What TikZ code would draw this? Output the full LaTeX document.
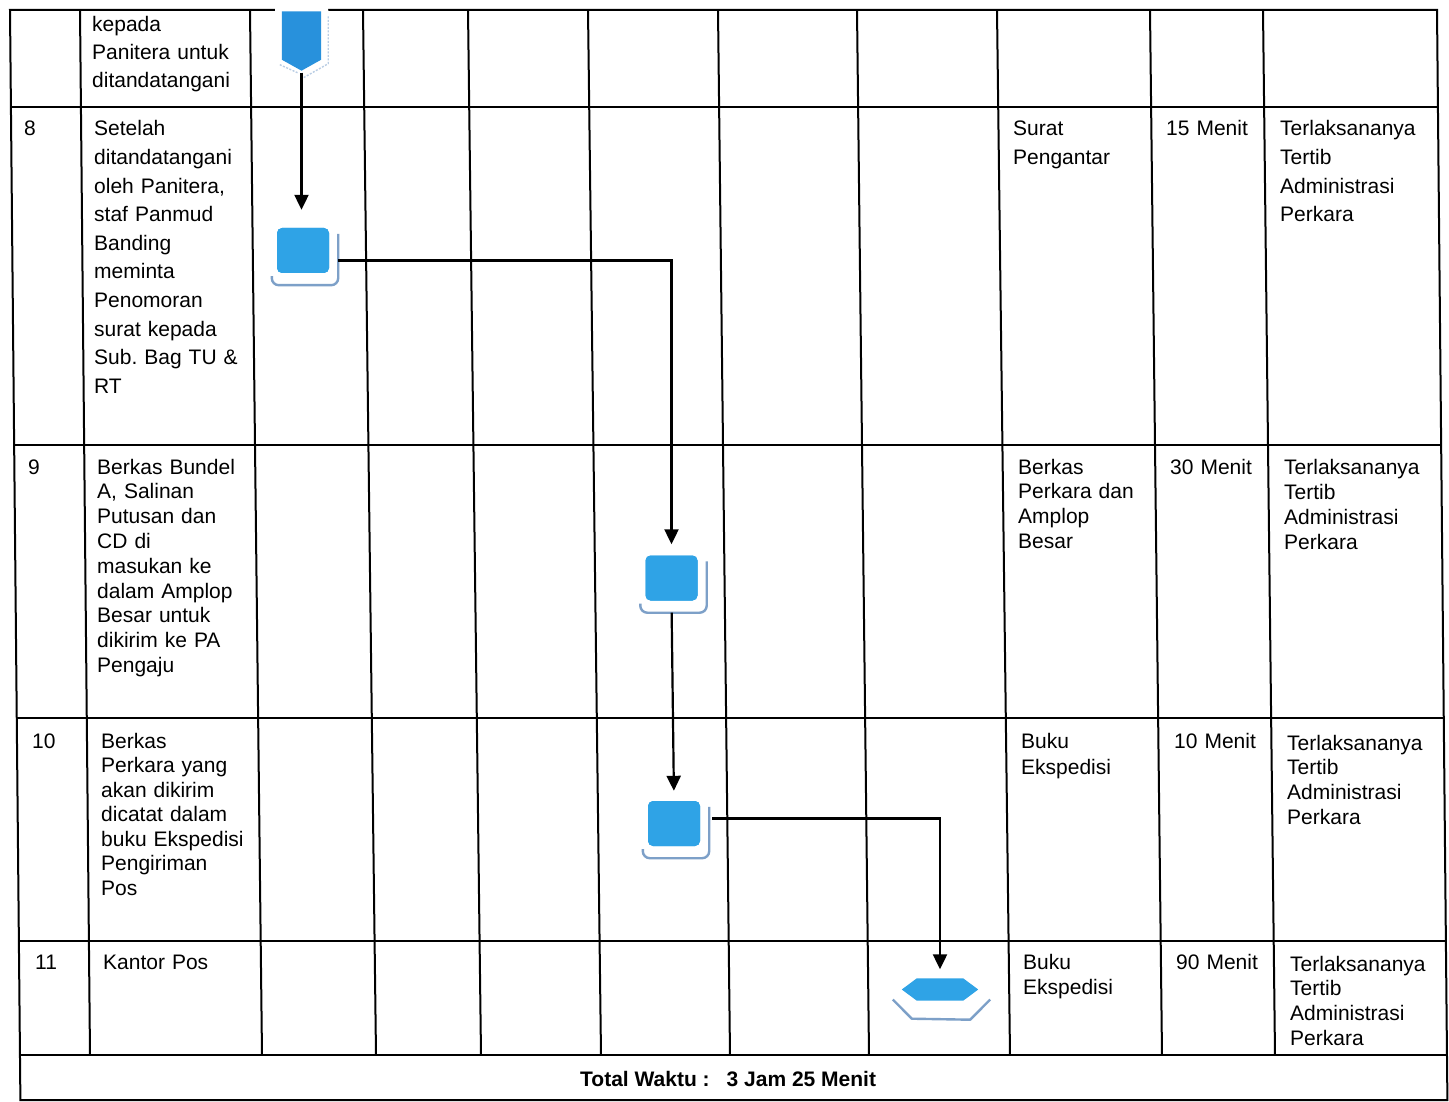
\documentclass[tikz,border=0pt]{standalone}
\usepackage{fontspec}
\setmainfont{Liberation Sans}
\usetikzlibrary{arrows.meta,calc}
\definecolor{boxblue}{RGB}{47,163,230}
\definecolor{pentblue}{RGB}{40,145,220}
\definecolor{shadowcol}{RGB}{125,160,200}
\definecolor{faintcol}{RGB}{185,205,228}
\newcommand\boxshade[1]{%
  \draw[shadowline] ($(#1.south west)+(-5,3)$) |- ($(#1.south east)+(9,12)$) -- ($(#1.north east)+(9,6)$);}
\frenchspacing
\begin{document}
\begin{tikzpicture}[x=1pt,y=-1pt,
  tbl/.style={line width=2pt, line join=miter},
  txt/.style={anchor=base west, inner sep=0, align=left, text width=200pt, font=\fontsize{21}{#1}\selectfont},
  txt/.default=24.8,
  procbox/.style={rectangle, rounded corners=5pt, fill=boxblue, draw=none, minimum width=52pt, minimum height=45pt, inner sep=0},
  shadowline/.style={draw=shadowcol, line width=2.4pt, rounded corners=7pt},
  flow/.style={line width=2.2pt, -{Triangle[length=15pt,width=14pt]}},
  ghost/.style={inner sep=0, draw=none}]
\useasboundingbox (0,0) rectangle (1449,1102);
\fill[white] (0,0) rectangle (1449,1102);

% ---------- table ----------
\draw[tbl] (10,10) -- (1437,10) -- (1447.4,1100) -- (20.4,1100) -- cycle;
\draw[tbl] (10.9,107) -- (1437.9,107);
\draw[tbl] (14.2,445) -- (1441.2,445);
\draw[tbl] (16.8,718) -- (1443.8,718);
\draw[tbl] (18.9,941) -- (1445.9,941);
\draw[tbl] (20,1055) -- (1447,1055);
\foreach \xt/\xb in {80/90, 250/262, 363/376, 468/481, 588/601, 718/730, 857/869, 997/1010, 1150/1162, 1263/1275}
  \draw[tbl] (\xt,10) -- (\xb,1055);

% ---------- texts ----------
\node[txt=28] (t7d) at (92,32) {kepada\\Panitera untuk\\ditandatangani};

\node[txt=28.6] (n8) at (24,136) {8};
\node[txt=28.6] (t8d) at (94,136) {Setelah\\ditandatangani\\oleh Panitera,\\staf Panmud\\Banding\\meminta\\Penomoran\\surat kepada\\Sub. Bag TU \&\\RT};
\node[txt=28.6] (t8o) at (1013,136) {Surat\\Pengantar};
\node[txt=28.6] (t8w) at (1166,136) {15 Menit};
\node[txt=28.6] (t8k) at (1280,136) {Terlaksananya\\Tertib\\Administrasi\\Perkara};

\node[txt] (n9) at (28,474) {9};
\node[txt] (t9d) at (97,474) {Berkas Bundel\\A, Salinan\\Putusan dan\\CD di\\masukan ke\\dalam Amplop\\Besar untuk\\dikirim ke PA\\Pengaju};
\node[txt] (t9o) at (1018,474) {Berkas\\Perkara dan\\Amplop\\Besar};
\node[txt] (t9w) at (1170,474) {30 Menit};
\node[txt=25] (t9k) at (1284,474) {Terlaksananya\\Tertib\\Administrasi\\Perkara};

\node[txt=24.5] (n10) at (32,748) {10};
\node[txt=24.5] (t10d) at (101,748) {Berkas\\Perkara yang\\akan dikirim\\dicatat dalam\\buku Ekspedisi\\Pengiriman\\Pos};
\node[txt=26] (t10o) at (1021,748) {Buku\\Ekspedisi};
\node[txt] (t10w) at (1174,748) {10 Menit};
\node[txt=24.7] (t10k) at (1287,750) {Terlaksananya\\Tertib\\Administrasi\\Perkara};

\node[txt] (n11) at (35,969) {11};
\node[txt] (t11d) at (103,969) {Kantor Pos};
\node[txt=25] (t11o) at (1023,969) {Buku\\Ekspedisi};
\node[txt] (t11w) at (1176,969) {90 Menit};
\node[txt=24.7] (t11k) at (1290,971) {Terlaksananya\\Tertib\\Administrasi\\Perkara};

\node[anchor=base west, inner sep=0, font=\fontsize{21}{25}\selectfont\bfseries] (tot) at (580,1086) {Total Waktu :\hspace{17pt}3 Jam 25 Menit};

% ---------- off-page connector ----------
\fill[white] (275,5) -- (328,5) -- (331,66) -- (302,82) -- (276,67) -- cycle;
\node[ghost, minimum width=39pt, minimum height=59pt] (oc) at (301.5,41) {};
\draw[faintcol, line width=1.4pt, dash pattern=on 2pt off 1.5pt] ($(oc.north east)+(7,5)$) -- ($(oc.south east)+(7,-7)$) -- ($(oc.south)+(2,7)$);
\draw[faintcol, line width=1.4pt, dash pattern=on 2pt off 1.5pt] ($(oc.south west)+(-2,-6)$) -- ($(oc.south)+(-4,2)$);
\fill[pentblue] (oc.north west) -- (oc.north east) -- ($(oc.south east)+(0,-11)$) -- (oc.south) -- ($(oc.south west)+(0,-11)$) -- cycle;

% ---------- process boxes ----------
\node[procbox] (b1) at (303,250.5) {};
\node[procbox] (b2) at (671.5,578) {};
\node[procbox] (b3) at (674,823.5) {};
\boxshade{b1}
\boxshade{b2}
\boxshade{b3}
\node[procbox] at (b1) {};
\node[procbox] at (b2) {};
\node[procbox] at (b3) {};

% ---------- hexagon ----------
\node[ghost, minimum width=76pt, minimum height=22pt] (hx) at (940,989.5) {};
\draw[shadowcol, line width=2.4pt, line join=round] ($(hx.west)+(-9,10)$) -- ($(hx.south west)+(10,18)$) -- ($(hx.south east)+(-8,19)$) -- ($(hx.east)+(12,10)$);
\fill[boxblue] (hx.west) -- ($(hx.north west)+(15,0)$) -- ($(hx.north east)+(-15,0)$) -- (hx.east) -- ($(hx.south east)+(-15,0)$) -- ($(hx.south west)+(15,0)$) -- cycle;

% ---------- connectors ----------
\draw[flow, shorten <=2pt, shorten >=18pt] (oc.south) -- (oc.south |- b1.north);
\draw[flow, shorten >=11pt] ([xshift=9pt,yshift=-10pt]b1.east) -| (b2.north);
\draw[flow, shorten <=12pt, shorten >=10pt] (b2.south) -- (b3.north);
\draw[flow, shorten >=9pt] ([xshift=12pt,yshift=5pt]b3.east) -| (hx.north);
\end{tikzpicture}
\end{document}
